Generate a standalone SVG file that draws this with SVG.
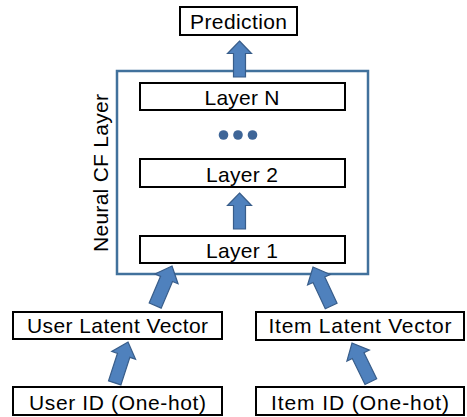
<svg xmlns="http://www.w3.org/2000/svg" width="467" height="417" viewBox="0 0 467 417">
<style>
.box{fill:#fff;stroke:#000;stroke-width:2}
.t{font-family:"Liberation Sans",Arial,sans-serif;font-size:21px;fill:#000;text-anchor:middle}
.arr{fill:#4F81BD;stroke:#385D8A;stroke-width:1.2;stroke-linejoin:miter}
</style>
<defs>
<path id="a36" d="M0,0 L12,12.5 L6,12.5 L6,36 L-6,36 L-6,12.5 L-12,12.5 Z"/>
<path id="a44" d="M0,0 L12.5,14 L6.5,14 L6.5,43 L-6.5,43 L-6.5,14 L-12.5,14 Z"/>
</defs>
<rect width="467" height="417" fill="#fff"/>
<g id="neural-cf-layer">
<rect x="117" y="71" width="251" height="203" fill="#fff" stroke="#41719C" stroke-width="2.5"/>
<text class="t" transform="translate(108,173) rotate(-90)" textLength="158">Neural CF Layer</text>
</g>
<g id="prediction">
<rect class="box" x="180" y="7" width="117" height="28"/>
<text class="t" x="238.5" y="29" textLength="97">Prediction</text>
</g>
<g id="layer-n">
<rect class="box" x="140" y="83" width="205" height="27"/>
<text class="t" x="242" y="105" textLength="75">Layer N</text>
</g>
<g id="ellipsis" fill="#3E6597">
<circle cx="223.5" cy="135" r="4.8"/>
<circle cx="238" cy="135" r="4.8"/>
<circle cx="252.5" cy="135" r="4.8"/>
</g>
<g id="layer-2">
<rect class="box" x="140" y="159" width="205" height="28"/>
<text class="t" x="242" y="182" textLength="72">Layer 2</text>
</g>
<g id="layer-1">
<rect class="box" x="140" y="236" width="205" height="27"/>
<text class="t" x="242" y="258" textLength="72">Layer 1</text>
</g>
<g id="user-latent-vector">
<rect class="box" x="13" y="312" width="209" height="27"/>
<text class="t" x="117.5" y="333" textLength="181">User Latent Vector</text>
</g>
<g id="item-latent-vector">
<rect class="box" x="256" y="312" width="208" height="28"/>
<text class="t" x="360" y="333" textLength="183">Item Latent Vector</text>
</g>
<g id="user-id">
<rect class="box" x="13" y="387" width="209" height="28"/>
<text class="t" x="117.5" y="410" textLength="177">User ID (One-hot)</text>
</g>
<g id="item-id">
<rect class="box" x="256" y="387" width="208" height="28"/>
<text class="t" x="360" y="410" textLength="178">Item ID (One-hot)</text>
</g>
<g id="connectors" class="arr">
<use href="#a36" transform="translate(239.5,41)"/>
<use href="#a36" transform="translate(239.5,193)"/>
<use href="#a44" transform="translate(172,266) rotate(23)"/>
<use href="#a44" transform="translate(313,267) rotate(-25)"/>
<use href="#a44" transform="translate(128,342) rotate(18)"/>
<use href="#a44" transform="translate(352,343) rotate(-26)"/>
</g>
</svg>
